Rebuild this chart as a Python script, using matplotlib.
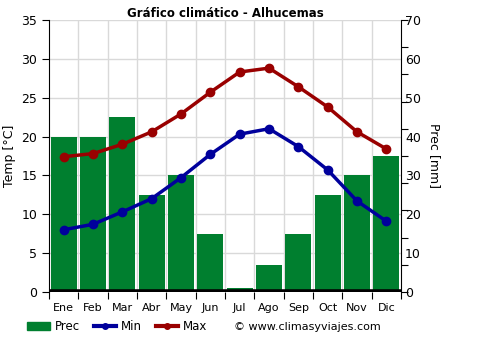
import numpy as np
import matplotlib
matplotlib.use("Agg")
import matplotlib.pyplot as plt
from matplotlib.lines import Line2D
from matplotlib.patches import Patch

months = ["Ene", "Feb", "Mar", "Abr", "May", "Jun", "Jul", "Ago", "Sep", "Oct", "Nov", "Dic"]
prec = [40, 40, 45, 25, 30, 15, 1, 7, 15, 25, 30, 35]
t_min = [8.0, 8.7, 10.3, 12.0, 14.7, 17.7, 20.3, 21.0, 18.7, 15.7, 11.7, 9.1]
t_max = [17.4, 17.8, 19.0, 20.6, 22.9, 25.7, 28.3, 28.8, 26.4, 23.8, 20.6, 18.4]

green = "#007f2f"
blue = "#00009c"
red = "#990000"

fig = plt.figure(figsize=(5, 3.5), dpi=100)
ax = fig.add_axes([0.098, 0.166, 0.704, 0.777])
ax2 = ax.twinx()

x = np.arange(12)

# precipitation bars on right axis, drawn behind temps
ax2.bar(x, prec, width=0.88, color=green, zorder=2)
ax2.set_ylim(0, 70)
ax2.yaxis.remove_overlapping_locs = False
ax2.set_yticks(np.arange(0, 71, 7))
ax2.set_yticklabels([])
ax2.set_yticks(np.arange(0, 71, 10), minor=True)
ax2.set_yticklabels([str(v) for v in range(0, 71, 10)], minor=True)
ax2.tick_params(axis="y", which="minor", length=0, labelsize=9, pad=3)
ax2.tick_params(axis="y", which="major", length=5, direction="out")
ax2.set_ylabel("Prec [mm]", rotation=270, labelpad=14, fontsize=9)

ax.set_zorder(ax2.get_zorder() + 1)
ax.patch.set_visible(False)

ax.plot(x, t_min, color=blue, lw=2.5, marker="o", ms=6, zorder=5)
ax.plot(x, t_max, color=red, lw=2.5, marker="o", ms=6, zorder=5)
ax.set_ylim(0, 35)
ax.set_xlim(-0.5, 11.5)
ax.set_yticks(np.arange(0, 36, 5))
ax.tick_params(axis="y", labelsize=9, length=5)
ax.set_ylabel("Temp [°C]", fontsize=9)

ax.xaxis.remove_overlapping_locs = False
ax.set_xticks(np.arange(-0.5, 12, 1))
ax.set_xticklabels([])
ax.set_xticks(x, minor=True)
ax.set_xticklabels(months, minor=True)
ax.tick_params(axis="x", which="minor", length=0, labelsize=8, pad=8)
ax.tick_params(axis="x", which="major", length=5)

# grid drawn in the back axes so it sits behind bars
for v in np.arange(5, 36, 5):
    ax2.axhline(v * 2, color="#d9d9d9", lw=1, zorder=0)
for v in np.arange(0.5, 11, 1):
    ax2.axvline(v, color="#d9d9d9", lw=1, zorder=0)
ax2.axhline(0, color="black", lw=4, zorder=3)

for a in (ax, ax2):
    a.spines["top"].set_visible(False)
ax.spines["right"].set_visible(False)
ax2.spines["left"].set_visible(False)
ax2.spines["bottom"].set_visible(False)
ax.spines["bottom"].set_visible(False)

ax.set_title("Gráfico climático - Alhucemas", fontsize=8.5, fontweight="bold", pad=-1)

handles = [
    Patch(color=green, label="Prec"),
    Line2D([], [], color=blue, lw=3, marker="o", ms=4, label="Min"),
    Line2D([], [], color=red, lw=3, marker="o", ms=4, label="Max"),
]
fig.legend(handles=handles, loc="center left", bbox_to_anchor=(0.045, 0.066), ncol=3,
           frameon=False, fontsize=8.5, handlelength=1.9, handletextpad=0.4,
           columnspacing=1.2, borderaxespad=0)
fig.text(0.468, 0.066, "© www.climasyviajes.com", fontsize=8, va="center")

fig.savefig("out.png", dpi=100)
